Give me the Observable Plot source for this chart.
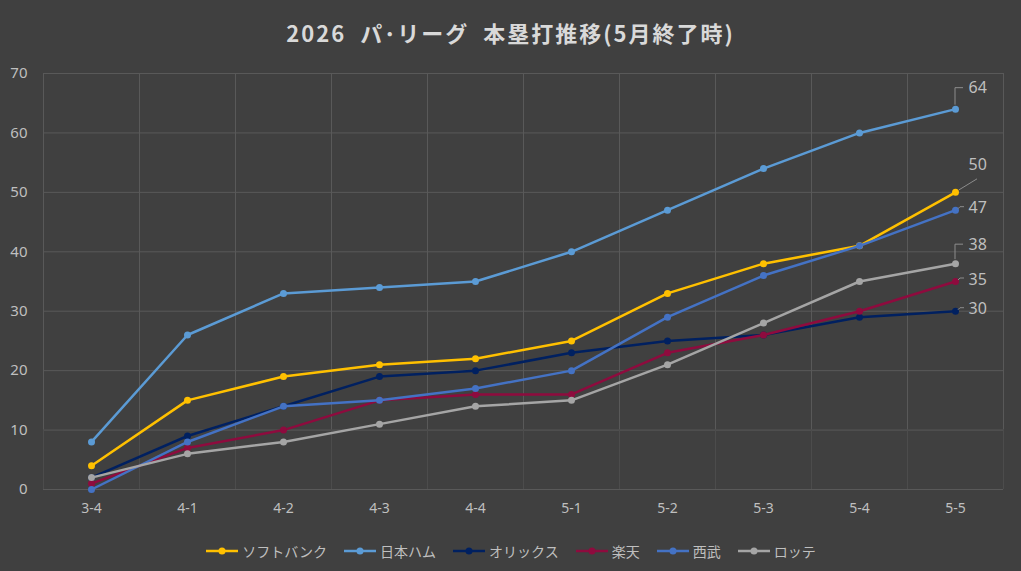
<!DOCTYPE html>
<html>
<head>
<meta charset="utf-8">
<script src="https://cdn.jsdelivr.net/npm/d3@7"></script>
<script src="https://cdn.jsdelivr.net/npm/@observablehq/plot@0.6"></script>
<style>
  html, body { margin: 0; padding: 0; background: #404040; }
  body { width: 1021px; height: 571px; overflow: hidden; font-family: "Noto Sans CJK JP", "Noto Sans", sans-serif; }
  #title { height: 60px; line-height: 64px; text-align: center; color: #d9d9d9; font-weight: bold; font-size: 22px; letter-spacing: 2px; }
  #legend { height: 41px; display: flex; justify-content: center; align-items: center; color: #bfbfbf; font-size: 14px; }
  .item { display: flex; align-items: center; margin: 0 8px; }
  .item svg { margin-right: 3px; }
</style>
</head>
<body>
<div id="title">2026&nbsp;&nbsp;パ･リーグ&nbsp;&nbsp;本塁打推移(5月終了時)</div>
<div id="chart"></div>
<div id="legend"></div>
<script>
const categories = ["3-4", "4-1", "4-2", "4-3", "4-4", "5-1", "5-2", "5-3", "5-4", "5-5"];
const teams = ["ソフトバンク", "日本ハム", "オリックス", "楽天", "西武", "ロッテ"];
const softbank = [4, 15, 19, 21, 22, 25, 33, 38, 41, 50];
const nipponham = [8, 26, 33, 34, 35, 40, 47, 54, 60, 64];
const orix = [2, 9, 14, 19, 20, 23, 25, 26, 29, 30];
const rakuten = [1, 7, 10, 15, 16, 16, 23, 26, 30, 35];
const seibu = [0, 8, 14, 15, 17, 20, 29, 36, 41, 47];
const lotte = [2, 6, 8, 11, 14, 15, 21, 28, 35, 38];
const yTicks = [0, 10, 20, 30, 40, 50, 60, 70];

const series = [softbank, nipponham, orix, rakuten, seibu, lotte];
const colors = ["#ffc000", "#5b9bd5", "#002060", "#8e0b3e", "#4472c4", "#a5a5a5"];
// label placement (pixel offsets from the last point) and leader style
const labelDy = [-27, -21, -2, -2, -2, -19];
const leaderKind = ["diag", "elbow", "short", "short", "short", "elbow"];

const rows = teams.flatMap((t, i) => series[i].map((v, j) => ({team: t, idx: j, value: v})));
const last = teams.map((t, i) => ({team: t, i, idx: categories.length - 1, value: series[i][categories.length - 1]}));
const bounds = d3.range(categories.length + 1).map(i => i - 0.5);

function leaders(index, scales) {
  const g = document.createElementNS("http://www.w3.org/2000/svg", "g");
  for (const d of last) {
    const px = scales.x(d.idx), py = scales.y(d.value), dy = labelDy[d.i];
    let pts;
    if (leaderKind[d.i] === "elbow") pts = [[px, py - 4], [px, py + dy], [px + 8, py + dy]];
    else if (leaderKind[d.i] === "diag") pts = [[px + 4, py - 2], [px + 22, py - 13]];
    else pts = [[px + 3, py - 1], [px + 5, py - 3], [px + 9, py - 3]];
    const p = document.createElementNS("http://www.w3.org/2000/svg", "polyline");
    p.setAttribute("points", pts.map(q => q.join(",")).join(" "));
    p.setAttribute("fill", "none");
    p.setAttribute("stroke", "#8c8c8c");
    p.setAttribute("stroke-width", "1");
    g.appendChild(p);
  }
  return g;
}

const seriesMarks = teams.flatMap((t, i) => {
  const data = rows.filter(r => r.team === t);
  return [
    Plot.line(data, {x: "idx", y: "value", stroke: colors[i], strokeWidth: 2.5}),
    Plot.dot(data, {x: "idx", y: "value", fill: colors[i], r: 3.5})
  ];
});

const labelMarks = last.map(d =>
  Plot.text([d], {x: "idx", y: "value", text: r => String(r.value), dx: 13, dy: labelDy[d.i], textAnchor: "start", fill: "#bfbfbf", fontSize: 16})
);

const chart = Plot.plot({
  width: 1021,
  height: 470,
  marginTop: 13,
  marginBottom: 41,
  marginLeft: 43,
  marginRight: 18,
  style: {background: "#404040", color: "#bfbfbf", fontFamily: "'Noto Sans', 'Noto Sans CJK JP', sans-serif", fontSize: "14px"},
  x: {type: "linear", domain: [-0.5, categories.length - 0.5], label: null},
  y: {domain: [0, 70], label: null},
  marks: [
    Plot.ruleY(yTicks, {stroke: "#595959", strokeWidth: 1}),
    Plot.ruleX(bounds, {y1: 10, y2: 70, stroke: "#595959", strokeWidth: 1}),
    Plot.ruleX(bounds, {y1: 0, y2: 10, stroke: "#4c4c4c", strokeWidth: 1}),
    Plot.axisY({ticks: yTicks, tickSize: 0, tickPadding: 16, fontSize: 15, fill: "#bfbfbf", label: null}),
    Plot.axisX({ticks: d3.range(categories.length), tickFormat: i => categories[i], tickSize: 0, tickPadding: 14, fontSize: 14, fill: "#bfbfbf", label: null}),
    ...seriesMarks,
    leaders,
    ...labelMarks
  ]
});
document.getElementById("chart").appendChild(chart);

const legend = document.getElementById("legend");
teams.forEach((t, i) => {
  const item = document.createElement("div");
  item.className = "item";
  item.innerHTML = `<svg width="34" height="12"><line x1="1" y1="6" x2="33" y2="6" stroke="${colors[i]}" stroke-width="2.5"/><circle cx="17" cy="6" r="3.5" fill="${colors[i]}"/></svg><span>${t}</span>`;
  legend.appendChild(item);
});
</script>
</body>
</html>
